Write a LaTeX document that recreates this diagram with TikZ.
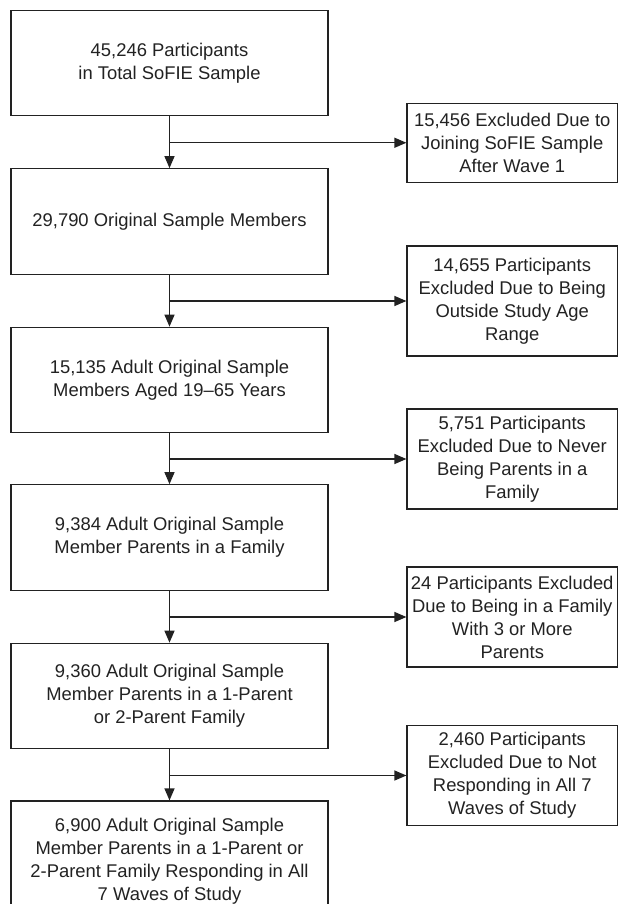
\documentclass[tikz,border=0pt]{standalone}
\usepackage{fontspec}
\setmainfont{Liberation Sans}
\usetikzlibrary{arrows.meta}
\definecolor{ink}{HTML}{222222}
\begin{document}
\begin{tikzpicture}[x=1pt,y=-1pt,
  box/.style={draw=ink, line width=1.2pt, rectangle, align=center,
    font=\fontsize{18.4}{23}\selectfont, text=ink, inner sep=0pt},
  lbox/.style={box, minimum width=317pt, minimum height=105.5pt},
  rbox/.style={box, minimum width=210.5pt},
  arr/.style={draw=ink, line width=1.2pt, -{Triangle[length=12pt,width=10pt]}}]
\useasboundingbox (0,0) rectangle (619,904);
\clip (0,0) rectangle (619,904);
\fill[white] (0,0) rectangle (619,904);
% left column
\node[lbox] (L1) at (169.5,63) {45,246 Participants\\in Total SoFIE Sample};
\node[lbox] (L2) at (169.5,221.5) {29,790 Original Sample Members};
\node[lbox] (L3) at (169.5,380) {15,135 Adult Original Sample\\Members Aged 19–65 Years};
\node[lbox] (L4) at (169.5,537.5) {9,384 Adult Original Sample\\Member Parents in a Family};
\node[lbox] (L5) at (169.5,696) {9,360 Adult Original Sample\\Member Parents in a 1-Parent\\or 2-Parent Family};
\node[lbox, minimum height=121pt] (L6) at (169.5,861.5) {6,900 Adult Original Sample\\Member Parents in a 1-Parent or\\2-Parent Family Responding in All\\7 Waves of Study};
% right column
\node[rbox, minimum height=79pt] (R1) at (512.25,142.75) {15,456 Excluded Due to\\Joining SoFIE Sample\\After Wave 1};
\node[rbox, minimum height=110pt] (R2) at (512.25,301) {14,655 Participants\\Excluded Due to Being\\Outside Study Age\\Range};
\node[rbox, minimum height=100pt] (R3) at (512.25,459) {5,751 Participants\\Excluded Due to Never\\Being Parents in a\\Family};
\node[rbox, minimum height=100pt] (R4) at (512.25,617) {24 Participants Excluded\\Due to Being in a Family\\With 3 or More\\Parents};
\node[rbox, minimum height=100pt] (R5) at (512.25,775.5) {2,460 Participants\\Excluded Due to Not\\Responding in All 7\\Waves of Study};
% connectors
\foreach \a/\b/\r in {L1/L2/R1, L2/L3/R2, L3/L4/R3, L4/L5/R4, L5/L6/R5}{
  \draw[arr] (\a.south) -- (\b.north);
  \draw[arr] (\a.south |- \r.west) -- (\r.west);
}
\end{tikzpicture}
\end{document}
